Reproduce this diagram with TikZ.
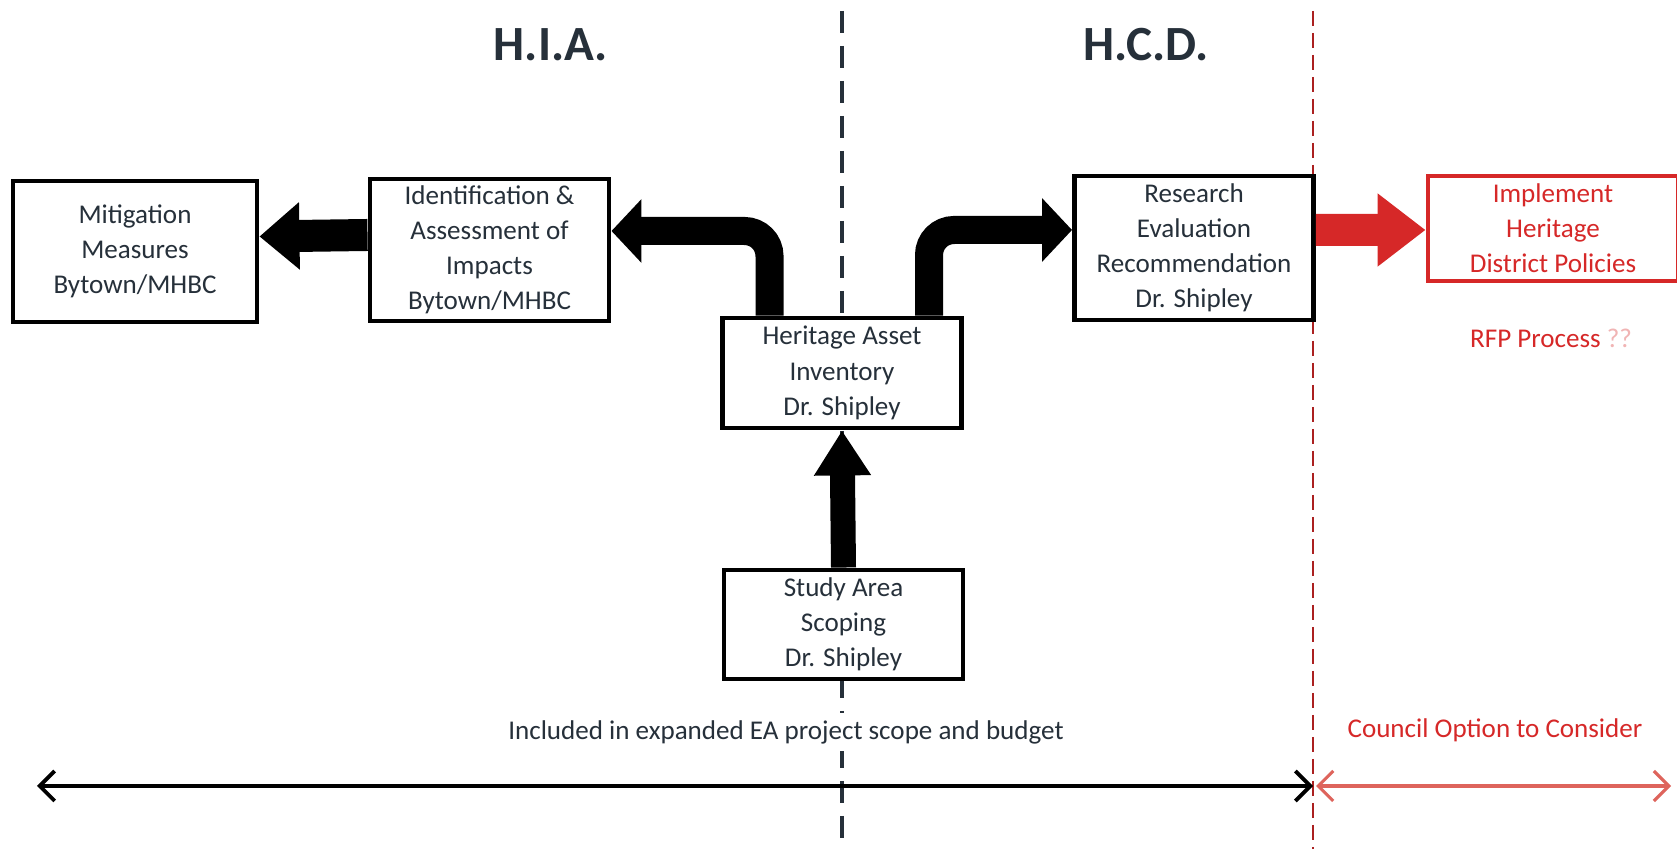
\documentclass[tikz,border=0pt]{standalone}
\usepackage{fontspec}
\setmainfont{Carlito}
\usetikzlibrary{arrows.meta}
\definecolor{boxtext}{RGB}{38,48,58}
\definecolor{councilred}{RGB}{214,40,40}
\definecolor{spanred}{RGB}{222,100,92}

\tikzset{
  stage/.style={draw=black, line width=1.4pt, fill=white, text=boxtext, align=center,
    minimum width=2.39cm, inner sep=1pt, font=\fontsize{7.7}{10}\selectfont},
  bigarrow/.style={line width=2.8mm, -{Triangle[length=3mm,width=6.2mm]}},
  divider/.style={line width=1.1pt, dash pattern=on 2.2mm off 1.3mm},
  heading/.style={text=boxtext, font=\fontsize{14}{16}\selectfont\bfseries},
  note/.style={text=boxtext, font=\fontsize{7.7}{10}\selectfont}
}

\begin{document}
\begin{tikzpicture}

    \useasboundingbox[fill=white] (0,0) rectangle (16.77,8.49);

    \coordinate (hiatop) at (8.42,8.38);
    \coordinate (hiabottom) at (8.42,0);
    \coordinate (counciltop) at (13.13,8.38);
    \coordinate (councilbottom) at (13.13,0);
    \draw[divider, draw=boxtext] (hiatop) -- (hiabottom);
    \draw[divider, draw=councilred!80!black, line width=0.7pt, dash pattern=on 1.5mm off 0.7mm] (counciltop) -- (councilbottom);

    \node[heading] (hia) at (5.51,8.04) {H.I.A.};
    \node[heading] (hcd) at (11.46,8.04) {H.C.D.};

    \node[stage, minimum width=2.44cm, minimum height=1.41cm] (mitigation) at (1.35,5.975) {Mitigation\\Measures\\Bytown/MHBC};
    \node[stage, minimum height=1.42cm] (identification) at (4.895,5.99) {Identification \&\\Assessment of\\Impacts\\Bytown/MHBC};
    \node[stage, minimum height=1.10cm] (inventory) at (8.42,4.76) {Heritage Asset\\Inventory\\Dr. Shipley};
    \node[stage, minimum height=1.09cm] (scoping) at (8.435,2.245) {Study Area\\Scoping\\Dr. Shipley};
    \node[stage, minimum height=1.44cm] (research) at (11.94,6.01) {Research\\Evaluation\\Recommendation\\Dr. Shipley};
    \node[stage, draw=councilred, text=councilred, minimum width=2.5cm, minimum height=1.05cm] (implement) at (15.53,6.205) {Implement\\Heritage\\District Policies};

    \node[note, text=councilred] (rfp) at (15.51,5.11) {RFP Process \textcolor{councilred!35}{??}};

    \draw[bigarrow, line width=3.2mm, -{Triangle[length=4mm,width=6.5mm]}] ([yshift=1.5mm]identification.west) -- ([yshift=1.5mm]mitigation.east);
    \draw[bigarrow, rounded corners=2.5mm] ([xshift=-7.25mm]inventory.north) |- ([yshift=1.9mm]identification.east);
    \draw[bigarrow, rounded corners=2.5mm] ([xshift=8.7mm]inventory.north) |- ([yshift=1.8mm]research.west);
    \draw[bigarrow, line width=2.5mm, -{Triangle[length=4.5mm,width=5.4mm]}] (scoping.north) -- (inventory.south);
    \draw[bigarrow, draw=councilred, line width=3.2mm, -{Triangle[length=4.8mm,width=7mm]}] ([yshift=1.8mm]research.east) -- ([yshift=-0.15mm]implement.west);

    \node[note, fill=white, inner sep=2pt] (included) at (7.86,1.17) {Included in expanded EA project scope and budget};
    \node[note, text=councilred] (council) at (14.95,1.19) {Council Option to Consider};

    \coordinate (spanleft) at (0.37,0.63);
    \coordinate (spanmid) at (13.13,0.63);
    \coordinate (spanright) at (16.71,0.63);
    \draw[line width=1.1pt, {Straight Barb[length=1.5mm,width=3mm]}-{Straight Barb[length=1.5mm,width=3mm]}] (spanleft) -- (spanmid);
    \draw[spanred, line width=0.9pt, {Straight Barb[length=1.5mm,width=3mm]}-{Straight Barb[length=1.5mm,width=3mm]}] ([xshift=0.3mm]spanmid) -- (spanright);

  \end{tikzpicture}
\end{document}
